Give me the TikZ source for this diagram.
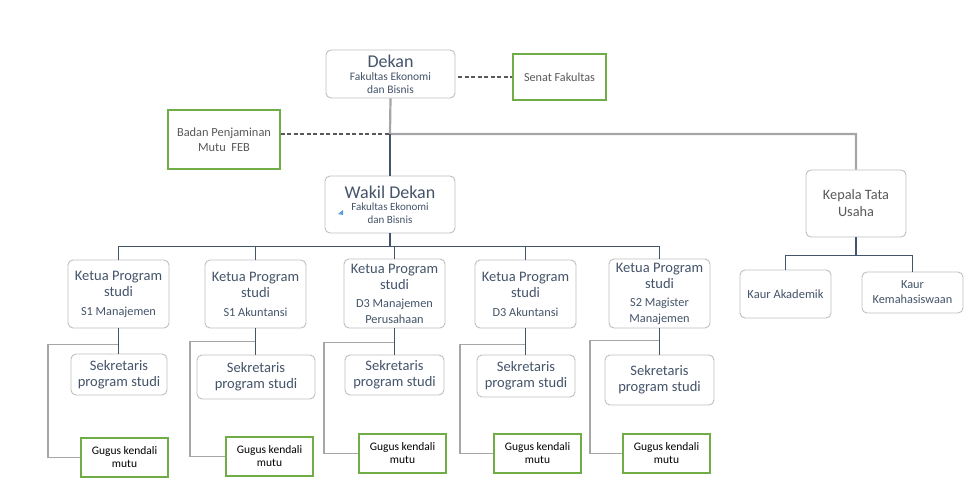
\documentclass[tikz,border=0pt]{standalone}
\usepackage{fontspec}
\setmainfont{Carlito}
\usepackage{tikz}
\definecolor{slate}{HTML}{44546A}
\definecolor{boxgray}{HTML}{BFBFBF}
\definecolor{lineGray}{HTML}{A6A6A6}
\definecolor{mutuGreen}{HTML}{70AD47}
\definecolor{textGray}{HTML}{595959}
\definecolor{markBlue}{HTML}{5B9BD5}
\newcommand{\fsz}[2]{\fontsize{#1}{#2}\selectfont}

\begin{document}
\begin{tikzpicture}[x=1pt,y=-1pt,
  box/.style={draw=boxgray,line width=0.9pt,rounded corners=5pt,fill=white,inner sep=1pt,align=center,text=slate},
  mutu/.style={draw=mutuGreen,line width=1.1pt,fill=white,inner sep=1pt,align=center,minimum width=87,minimum height=39,font=\fsz{11.5}{13}},
  ketua/.style={box,minimum width=101,minimum height=68,font=\fsz{14.5}{16}},
  sekr/.style={box,font=\fsz{14.5}{16}},
  tie/.style={draw=slate,line width=1.2pt},
  side/.style={draw=lineGray,line width=1.4pt},
  trunk/.style={draw=lineGray,line width=2.2pt},
  dashline/.style={draw=textGray,line width=1.1pt,dash pattern=on 4pt off 2.5pt}
]
\useasboundingbox (0,0) rectangle (978,494);
\node[box,minimum width=129,minimum height=48,font=\fsz{11.5}{13}] (dekan) at (390.5,74) {\fsz{18}{18}Dekan\\Fakultas Ekonomi\\dan Bisnis};
\node[mutu,minimum width=93,minimum height=46,text=textGray,font=\fsz{12.2}{14}] (senat) at (559.5,77) {Senat Fakultas};
\node[mutu,minimum width=112,minimum height=59,text=textGray,font=\fsz{12.4}{15}] (badan) at (224,139.5) {Badan Penjaminan\\Mutu\ \ FEB};
\node[box,minimum width=130,minimum height=57,font=\fsz{11}{12.5}] (wakil) at (390,204.5) {\fsz{18}{19}Wakil Dekan\\Fakultas Ekonomi\\dan Bisnis};
\node[box,minimum width=100,minimum height=67,text=textGray,font=\fsz{14.3}{17}] (kepala) at (856,203.5) {Kepala Tata\\Usaha};
\node[box,minimum width=91,minimum height=48,font=\fsz{12.5}{14}] (kaurA) at (785.5,294) {Kaur Akademik};
\node[box,minimum width=101,minimum height=41,font=\fsz{12.3}{15}] (kaurK) at (912.5,292.5) {Kaur\\Kemahasiswaan};
\fill[markBlue] (338,214) -- (343,210) -- (343,215) -- cycle;
% program studi
\node[ketua] (k1) at (118.5,294) {Ketua Program\\studi\\[3pt]\fsz{12.3}{14}S1 Manajemen};
\node[ketua] (k2) at (255.5,294) {Ketua Program\\studi\\[3pt]\fsz{12.3}{14}S1 Akuntansi};
\node[ketua,minimum height=69] (k3) at (394.5,293.5) {Ketua Program\\studi\\[2pt]\fsz{12.3}{13}D3 Manajemen\\\fsz{12.3}{13}Perusahaan};
\node[ketua] (k4) at (525.5,294) {Ketua Program\\studi\\[3pt]\fsz{12.3}{14}D3 Akuntansi};
\node[ketua,minimum height=69] (k5) at (659.5,293.5) {Ketua Program\\studi\\[2pt]\fsz{12.3}{13}S2 Magister\\\fsz{12.3}{13}Manajemen};
\node[sekr,minimum width=96,minimum height=41] (s1) at (119,374.5) {Sekretaris\\program studi};
\node[sekr,minimum width=118,minimum height=44] (s2) at (256,377) {Sekretaris\\program studi};
\node[sekr,minimum width=99,minimum height=40] (s3) at (394.5,375) {Sekretaris\\program studi};
\node[sekr,minimum width=98,minimum height=42] (s4) at (526,376) {Sekretaris\\program studi};
\node[sekr,minimum width=109,minimum height=50] (s5) at (659.5,380) {Sekretaris\\program studi};
\node[mutu] (g1) at (124.5,457.5) {Gugus kendali\\mutu};
\node[mutu] (g2) at (269.5,456.5) {Gugus kendali\\mutu};
\node[mutu] (g3) at (402.5,453.5) {Gugus kendali\\mutu};
\node[mutu] (g4) at (537.5,453.5) {Gugus kendali\\mutu};
\node[mutu] (g5) at (666.5,453.5) {Gugus kendali\\mutu};
% lines
\coordinate (hub) at (390,134);
\draw[trunk] (dekan.south) -- (hub) -| (kepala.north);
\draw[tie] (hub) -- (wakil.north);
\draw[dashline] (hub -| badan.east) -- (hub);
\draw[dashline] (dekan.east |- senat.west) ++(3,0) -- (senat.west);
\draw[tie] (wakil.south) -- ++(0,13) -| (k1.north); \draw[tie] (wakil.south) -- ++(0,13) -| (k2.north);
\draw[tie] (wakil.south) -- ++(0,13) -| (k3.north); \draw[tie] (wakil.south) -- ++(0,13) -| (k4.north);
\draw[tie] (wakil.south) -- ++(0,13) -| (k5.north);
\draw[tie] (kepala.south) -- ++(0,18) -| (kaurA.north); \draw[tie] (kepala.south) -- ++(0,18) -| (kaurK.north);
\draw[side] (k1.south) ++(0,16) -- ++(-70.5,0) |- (g1.west); \draw[side] (k2.south) ++(0,13) -- ++(-65.5,0) |- (g2.west);
\draw[side] (k3.south) ++(0,14) -- ++(-70.5,0) |- (g3.west); \draw[side] (k4.south) ++(0,16) -- ++(-65.5,0) |- (g4.west);
\draw[side] (k5.south) ++(0,12) -- ++(-69.5,0) |- (g5.west);
\draw[tie] (k1.south) -- (k1.south |- s1.north); \draw[tie] (k2.south) -- (k2.south |- s2.north);
\draw[tie] (k3.south) -- (k3.south |- s3.north); \draw[tie] (k4.south) -- (k4.south |- s4.north);
\draw[tie] (k5.south) -- (k5.south |- s5.north);
\end{tikzpicture}
\end{document}
